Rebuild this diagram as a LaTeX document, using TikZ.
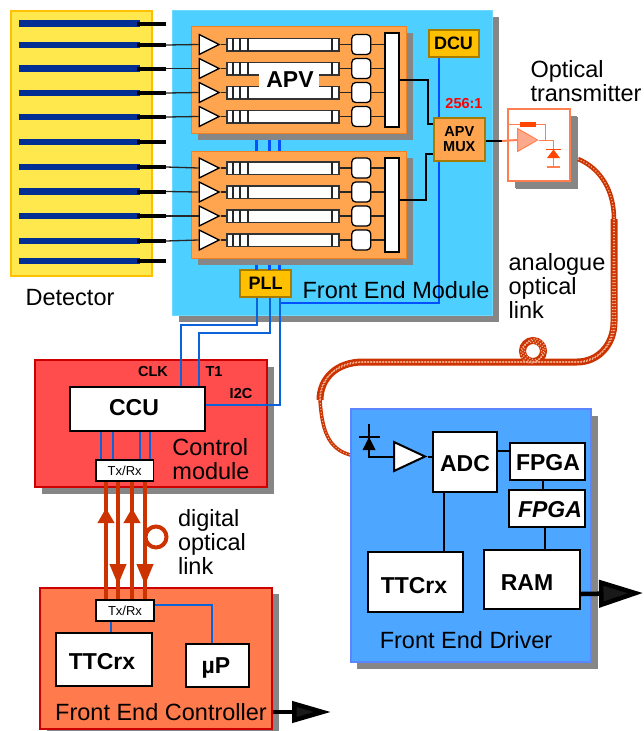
\documentclass[tikz,border=0pt]{standalone}
\usepackage{fontspec}
\setmainfont{Liberation Sans}
\usetikzlibrary{arrows.meta,shapes.geometric,shadows}

\definecolor{shadegray}{HTML}{868686}
\definecolor{detyellow}{HTML}{FFE84D}
\definecolor{detgold}{HTML}{FFC000}
\definecolor{stripblue}{HTML}{002E93}
\definecolor{modblue}{HTML}{4DCFFF}
\definecolor{apvfill}{HTML}{FFA54F}
\definecolor{apvedge}{HTML}{F08020}
\definecolor{chipedge}{HTML}{A67C00}
\definecolor{salmon}{HTML}{FF7F50}
\definecolor{salmonfill}{HTML}{FFA98C}
\definecolor{hotred}{HTML}{FF4500}
\definecolor{fedblue}{HTML}{4DA6FF}
\definecolor{fededge}{HTML}{5B84FF}
\definecolor{ctrlred}{HTML}{FF4D4D}
\definecolor{fecfill}{HTML}{FF7A4D}
\definecolor{edgered}{HTML}{CC0000}
\definecolor{linkred}{HTML}{CC3300}
\definecolor{busblue}{HTML}{0A63D8}
\definecolor{dcublue}{HTML}{0050FF}
\definecolor{dotpink}{HTML}{F4B090}

\begin{document}
\begin{tikzpicture}[x=1pt,y=-1pt]
    \tikzstyle{txt}=[inner sep=0pt,font=\fontsize{23.5}{24}\selectfont,align=left]
    \tikzstyle{bold}=[inner sep=0pt,font=\fontsize{23}{24}\selectfont\bfseries]
    \tikzstyle{tag}=[inner sep=0pt,font=\fontsize{14.5}{15}\selectfont\bfseries,align=center]
    \tikzstyle{shaded}=[general shadow={shadow xshift=6.5pt,shadow yshift=-6.5pt,fill=shadegray}]
    \tikzstyle{panel}=[shaded,rectangle,draw,line width=2pt,inner sep=0pt]
    \tikzstyle{chip}=[rectangle,draw=black,fill=white,line width=2pt,inner sep=0pt]
    \tikzstyle{goldchip}=[rectangle,draw=chipedge,fill=detgold,line width=2pt,inner sep=0pt,font=\fontsize{18}{18}\selectfont\bfseries]
    \tikzstyle{amp}=[isosceles triangle,isosceles triangle stretches,anchor=lower side,draw=black,fill=white,line width=1.3pt,inner sep=0pt,minimum width=20pt,minimum height=20pt]
    \tikzstyle{pipe}=[rectangle,draw=black!80,fill=white,line width=1.5pt,inner sep=0pt,minimum width=112pt,minimum height=12.5pt]
    \tikzstyle{cell}=[rectangle,rounded corners=4pt,draw=black,fill=white,line width=1.3pt,inner sep=0pt,minimum width=19pt,minimum height=20pt]
    \tikzstyle{thin wire}=[draw=black!85,line width=1.3pt]
    \tikzstyle{wire}=[draw=black,line width=2pt]
    \tikzstyle{bus}=[draw=busblue,line width=2.4pt]
    \tikzstyle{link}=[draw=linkred,line width=4pt]
    \tikzstyle{fibre}=[draw=linkred,line width=7pt]
    \tikzstyle{fibre dots}=[draw=dotpink,line width=1.2pt,dash pattern=on 1.2pt off 1.8pt]
    \tikzstyle{out arrow}=[draw=black,line width=4.5pt]

    \useasboundingbox (0,0) rectangle (643,731);

    % Detector and its strips.
    \node[rectangle,draw=detgold,fill=detyellow,line width=2pt,minimum width=141pt,minimum height=265pt] (det) at (81,143) {};
    \node[txt] (det label) at (70,298) {Detector};

    % Main panels.
    \node[panel,draw=modblue!80,fill=modblue,line width=1pt,minimum width=320.5pt,minimum height=305pt] (fem) at (332.7,162.5) {};
    \node[panel,draw=edgered,fill=ctrlred,minimum width=232pt,minimum height=127pt] (ctrl) at (151,423.5) {};
    \node[panel,draw=edgered,fill=fecfill,minimum width=232pt,minimum height=141pt] (fec) at (156,658) {};
    \node[txt] (ctrl label) at (211,459) {Control\\module};

    % Strips and their bond stubs.
    \foreach \i/\y in {1/23.5,2/45,3/68.5,4/93,5/117,6/142,7/167,8/191.5,9/216,10/241,11/261}
    {
        \node[rectangle,fill=stripblue,inner sep=0pt,minimum width=121pt,minimum height=6.5pt] (strip-\i) at (79.5,\y) {};
        \coordinate (pin-\i) at (166,\y);
        \draw[black,line width=4pt] (137,\y) -- (pin-\i);
    }

    % Buses, under the chips.
    \node[goldchip,minimum width=50pt,minimum height=27pt] (dcu) at (453.5,43.5) {DCU};
    \node[goldchip,minimum width=51pt,minimum height=27pt] (pll) at (265.5,283.5) {PLL};
    \node[chip,minimum width=134.5pt,minimum height=44pt] (ccu) at (137.7,409) {};
    \draw[draw=dcublue,line width=2.4pt] (dcu.south -| 439,0) -- (439,303) -- (279.5,303);
    \foreach \x in {256.5,269.5,279.5}
        \draw[draw=dcublue,line width=2.4pt] (\x,135) -- (\x,270);
    \draw[bus] (pll.south -| 257,0) -- (257,325) -- (181,325) -- (181,0 |- ccu.north);
    \draw[bus] (pll.south -| 270,0) -- (270,333) -- (199,333) -- (199,0 |- ccu.north);
    \draw[bus] (pll.south -| 280,0) -- (280,405) -- (ccu.east |- 0,405);
    \node[bold] (ccu label) at (134,408) {CCU};
    \node[tag] (clk) at (153,372) {CLK};
    \node[tag] (t1) at (214,372) {T1};
    \node[tag] (i2c) at (241,394) {I2C};

    % The two APV hybrids.
    \foreach \b/\top/\ya/\yb/\yc/\yd in {a/80/44.5/68.5/92.5/116.5,b/205/168/192/216/240}
    {
        \node[panel,draw=apvedge,fill=apvfill,line width=1pt,minimum width=215pt,minimum height=107pt] (apv-\b) at (298.5,\top) {};
        \node[rectangle,draw=black,fill=white,line width=1.3pt,inner sep=0pt,minimum width=14pt,minimum height=94pt] (bar-\b) at (392,\top) {};
        \foreach \i/\y in {1/\ya,2/\yb,3/\yc,4/\yd}
        {
            \node[amp] (amp-\b-\i) at (198.5,\y) {};
            \node[pipe] (pipe-\b-\i) at (283,\y) {};
            \node[cell] (cell-\b-\i) at (361.3,\y) {};
            \foreach \x in {233,240,248,332}
                \draw[thin wire] (\x,\y-6.2) -- (\x,\y+6.2);
            \draw[thin wire] (amp-\b-\i.apex) -- (pipe-\b-\i.west);
            \draw[thin wire] (pipe-\b-\i.east) -- (cell-\b-\i.west);
            \draw[thin wire] (cell-\b-\i.east) -- (cell-\b-\i.east -| bar-\b.west);
        }
    }
    \node[fill=white,inner sep=0pt,minimum width=60pt,minimum height=19pt] (apv label box) at (289,80.5) {};
    \node[bold] (apv label) at (290,80) {APV};

    % Wires from the detector to the amplifiers.
    \foreach \i/\p in {2/a-1,3/a-2,4/a-3,5/a-4,7/b-1,8/b-2,9/b-3,10/b-4}
        \draw[thin wire] (pin-\i) -- (amp-\p.lower side);

    % Multiplexer.
    \node[rectangle,draw=chipedge,fill=apvfill,line width=2pt,inner sep=0pt,minimum width=51pt,minimum height=43pt,font=\fontsize{14.5}{15}\selectfont\bfseries,align=center] (mux) at (459.3,139) {APV\\MUX};
    \draw[wire] (bar-a.east) -- (427.5,80) -- (427.5,124) -- (mux.west |- 0,124);
    \draw[wire] (bar-b.east |- 0,199.5) -- (426,199.5) -- (426,154) -- (mux.west |- 0,154);
    \node[tag,text=red] (ratio) at (464,103.5) {256:1};
    \node[txt] (fem label) at (396,290) {Front End Module};

    % Optical transmitter.
    \node[panel,draw=salmon,fill=white,general shadow={shadow xshift=7.5pt,shadow yshift=-7.5pt,fill=shadegray},minimum width=62pt,minimum height=72pt] (tx) at (539,145) {};
    \node[txt] (tx label) at (586,81) {Optical\\transmitter};
    \node[amp,draw=salmon,fill=salmonfill,line width=1pt,minimum width=23pt,minimum height=20pt] (laser) at (517,140) {};
    \node[rectangle,fill=hotred,inner sep=0pt,minimum width=16.5pt,minimum height=5pt] (res) at (528,124.5) {};
    \draw[wire] (mux.east |- 0,141) -- (502,141);
    \draw[salmon,line width=2pt] (502,141) -- (laser.lower side);
    \draw[salmon,line width=1pt] (tx.west |- res) -- (res) -- (545,124.5) -- (545,140);
    \draw[salmon,line width=1pt] (laser.apex) -- (553.5,140) -- (553.5,149);
    \draw[salmon,line width=1.5pt] (553.5,158) -- (553.5,167);
    \draw[salmon,line width=1.5pt] (547,167) -- (560,167);
    \draw[hotred,line width=1.5pt] (546,149.5) -- (560.5,149.5);
    \fill[hotred] (553.5,149.5) -- (560,158) -- (547,158) -- cycle;

    % Analogue fibre.
    \coordinate (fib-start) at (578,159);
    \coordinate (fib-top) at (614,219);
    \coordinate (fib-right) at (577,362);
    \coordinate (fib-left) at (363,362);
    \coordinate (fib-bend) at (320,400);
    \coordinate (fib-end) at (350.5,455);
    \draw[draw=linkred,line width=4.5pt] (fib-start) .. controls (600,168) and (614,190) .. (fib-top);
    \draw[draw=linkred,line width=3.5pt] (fib-bend) .. controls (322,430) and (328,449) .. (fib-end);
    \draw[fibre dots] (fib-start) .. controls (600,168) and (614,190) .. (fib-top);
    \draw[fibre dots,line width=1pt] (fib-bend) .. controls (322,430) and (328,449) .. (fib-end);
    \draw[fibre] (fib-top) -- (614,322) .. controls (614,345) and (598,362) .. (fib-right) -- (fib-left) .. controls (337,362) and (320,378) .. (fib-bend);
    \draw[fibre] (533,351) circle (10.5);
    \foreach \s in {-1.7,0,1.7}
    {
        \draw[fibre dots,xshift=\s pt,yshift=\s pt] (fib-top) -- (614,322) .. controls (614,345) and (598,362) .. (fib-right) -- (fib-left) .. controls (337,362) and (320,378) .. (fib-bend);
        \draw[fibre dots,xshift=\s pt,yshift=\s pt] (533,351) circle (10.5);
    }

    % Front End Driver.
    \node[panel,draw=fededge,fill=fedblue,minimum width=240.5pt,minimum height=253pt] (fed) at (471.2,535.5) {};
    \node[chip,minimum width=64pt,minimum height=60pt] (adc) at (465,462) {};
    \node[bold] (adc label) at (465,464) {ADC};
    \node[chip,minimum width=75.5pt,minimum height=37pt] (fpga-1) at (547.7,461.5) {};
    \node[bold] (fpga-1 label) at (548,463) {FPGA};
    \node[chip,minimum width=76pt,minimum height=37pt] (fpga-2) at (547,508.5) {};
    \node[bold,font=\fontsize{23}{24}\selectfont\bfseries\itshape] (fpga-2 label) at (550,510) {FPGA};
    \node[chip,minimum width=96pt,minimum height=59pt] (ram) at (532,579.5) {};
    \node[bold] (ram label) at (527,583) {RAM};
    \node[chip,minimum width=95pt,minimum height=59.5pt] (ttc-b) at (415.5,582) {};
    \node[bold] (ttc-b label) at (414,586) {TTCrx};
    \node[amp,line width=2pt,minimum width=29pt,minimum height=31pt] (amp-fed) at (393,456.5) {};
    \draw[wire] (amp-fed.apex) -- (adc.west |- amp-fed.apex);
    \draw[wire] (369,424) -- (369,456.5) -- (amp-fed.lower side);
    \draw[wire] (359,437) -- (380,437);
    \fill[black] (369,437) -- (375.5,450) -- (362.5,450) -- cycle;
    \draw[wire] (adc.east |- 0,451) -- (fpga-1.west |- 0,451);
    \draw[wire] (fpga-1.south -| 543,0) -- (fpga-2.north -| 543,0);
    \draw[wire] (fpga-2.south -| 545,0) -- (ram.north -| 545,0);
    \draw[wire] (adc.south -| 444,0) -- (ttc-b.north -| 444,0);
    \draw[out arrow,-{Triangle[length=44pt,width=27pt,fill=black!90]}] (ram.east |- 0,594) -- (643,593);
    \node[txt] (fed label) at (466,640) {Front End Driver};

    % Front End Controller.
    \node[chip,minimum width=96pt,minimum height=53pt] (ttc-a) at (104,659.5) {};
    \node[bold] (ttc-a label) at (102,662) {TTCrx};
    \node[chip,minimum width=63pt,minimum height=43pt] (up) at (217.5,665.5) {};
    \node[bold] (up label) at (216,668) {µP};
    \node[txt] (fec label) at (161,712) {Front End Controller};
    \draw[out arrow,-{Triangle[length=39pt,width=21pt,fill=black!90]}] (fec.east |- 0,712) -- (331,712);

    % Tx/Rx boxes and the digital link.
    \node[chip,line width=1.6pt,minimum width=57.5pt,minimum height=21pt,font=\fontsize{13}{13}\selectfont] (tr-a) at (124.7,470.5) {Tx/Rx};
    \node[chip,line width=1.6pt,minimum width=58pt,minimum height=21pt,font=\fontsize{13}{13}\selectfont] (tr-b) at (125,610.5) {Tx/Rx};
    \foreach \x in {101,113,140,150}
        \draw[bus] (ccu.south -| \x,0) -- (tr-a.north -| \x,0);
    \draw[bus] (tr-b.south -| 111,0) -- (ttc-a.north -| 111,0);
    \draw[bus] (tr-b.east |- 0,605) -- (212,605) -- (up.north -| 212,0);
    \foreach \x in {106,118,132,145}
        \draw[link] (tr-a.south -| \x,0) -- (tr-b.north -| \x,0);
    \foreach \x in {106,132}
        \draw[link,-{Triangle[length=15pt,width=16pt]}] (tr-b.north -| \x,0) -- (\x,508);
    \foreach \x in {118,145}
        \draw[link,-{Triangle[length=21pt,width=16pt]}] (tr-a.south -| \x,0) -- (\x,585);
    \draw[link] (156,537) circle (10.5);
    \node[txt] (link-d label) at (212,542) {digital\\optical\\link};
    \node[txt] (link-a label) at (557,286) {analogue\\optical\\link};
\end{tikzpicture}
\end{document}
